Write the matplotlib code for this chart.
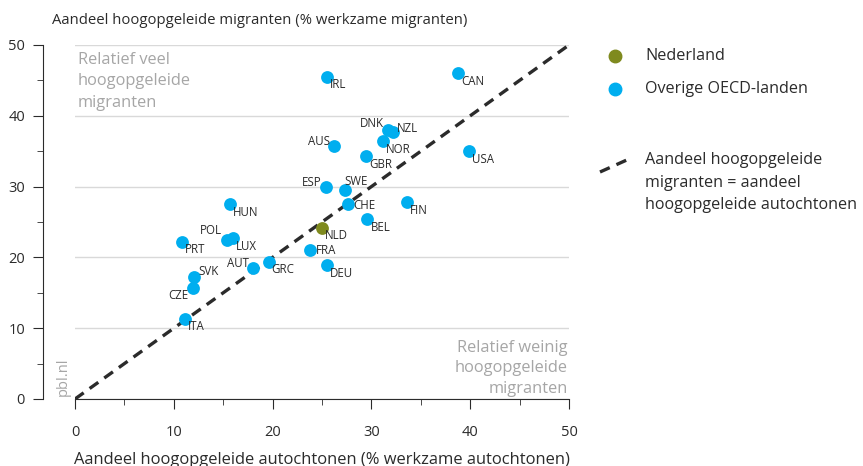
import matplotlib.pyplot as plt
from matplotlib.lines import Line2D
from matplotlib.ticker import MultipleLocator

plt.rcParams['font.family'] = ['Open Sans', 'DejaVu Sans']

BLUE = '#00aeef'
GREEN = '#7f8a1e'
GREY = '#a6a6a6'
DARK = '#2b2b2b'

# country, autochtonen (x), migranten (y)
countries = ['IRL', 'CAN', 'DNK', 'NZL', 'NOR', 'AUS', 'GBR', 'USA', 'ESP', 'SWE',
             'CHE', 'FIN', 'BEL', 'HUN', 'POL', 'LUX', 'PRT', 'FRA', 'AUT', 'GRC',
             'DEU', 'SVK', 'CZE', 'ITA']
x_auto = [25.5, 38.8, 31.7, 32.2, 31.2, 26.2, 29.5, 39.9, 25.4, 27.3,
          27.6, 33.6, 29.6, 15.7, 15.4, 16.0, 10.8, 23.8, 18.0, 19.6,
          25.5, 12.0, 11.9, 11.1]
y_migr = [45.5, 46.0, 38.0, 37.7, 36.4, 35.7, 34.3, 35.0, 29.9, 29.5,
          27.5, 27.8, 25.4, 27.5, 22.5, 22.7, 22.2, 21.0, 18.5, 19.4,
          18.9, 17.2, 15.7, 11.3]
nl_x, nl_y = [25.0], [24.2]

# label placement: offset in pixels (dx, dy) and alignment
label_pos = {
    'DNK': (-4, 6, 'right'), 'NZL': (4, 4, 'left'), 'AUS': (-4, 5, 'right'),
    'ESP': (-4, 5, 'right'), 'SWE': (0, 9, 'left'), 'POL': (-5, 9, 'right'),
    'AUT': (-4, 5, 'right'), 'CZE': (-4, -8, 'right'), 'SVK': (5, 6, 'left'),
    'CHE': (6, -1, 'left'), 'FRA': (6, 0, 'left'),
}

fig = plt.figure(figsize=(8.63, 4.66), dpi=100)
ax = fig.add_axes([75 / 863, 1 - 399 / 466, 494 / 863, 354 / 466])

ax.plot([0, 50], [0, 50], color=DARK, lw=2.4, ls=(0, (3.2, 2.2)), zorder=2)
ax.scatter(x_auto, y_migr, s=85, color=BLUE, zorder=3, linewidths=0)
ax.scatter(nl_x, nl_y, s=85, color=GREEN, zorder=3, linewidths=0)

for c, xv, yv in zip(countries + ['NLD'], x_auto + nl_x, y_migr + nl_y):
    dx, dy, ha = label_pos.get(c, (3, -8, 'left'))
    ax.annotate(c, (xv, yv), xytext=(dx * 0.72, dy * 0.72), textcoords='offset points',
                ha=ha, va='center', fontsize=8.3, color=DARK, zorder=4)

ax.set_xlim(0, 50)
ax.set_ylim(0, 50)
ax.xaxis.set_major_locator(MultipleLocator(10))
ax.xaxis.set_minor_locator(MultipleLocator(5))
ax.yaxis.set_major_locator(MultipleLocator(10))
ax.yaxis.set_minor_locator(MultipleLocator(5))
ax.grid(axis='y', color='#d9d9d9', lw=1)
ax.set_axisbelow(True)
for s in ['top', 'right']:
    ax.spines[s].set_visible(False)
ax.spines['left'].set_position(('outward', 23))
ax.spines['left'].set_color(DARK)
ax.spines['bottom'].set_color(DARK)
ax.tick_params(which='major', length=7, color=DARK, labelsize=10.5, labelcolor=DARK)
ax.tick_params(which='minor', length=4, color=DARK)
ax.tick_params(axis='x', pad=12)
ax.tick_params(axis='y', pad=6)

ax.set_xlabel('Aandeel hoogopgeleide autochtonen (% werkzame autochtonen)',
              fontsize=11.9, color=DARK, labelpad=8)
fig.text(52 / 863, 1 - 20 / 466, 'Aandeel hoogopgeleide migranten (% werkzame migranten)',
         fontsize=10.7, color=DARK, va='center', ha='left')

ax.text(0.3, 49.0, 'Relatief veel\nhoogopgeleide\nmigranten', color=GREY, fontsize=11.8,
        va='top', ha='left', linespacing=1.45)
ax.text(49.9, 0.3, 'Relatief weinig\nhoogopgeleide\nmigranten', color=GREY, fontsize=11.8,
        va='bottom', ha='right', linespacing=1.38)
fig.text(63 / 863, 1 - 396 / 466, 'pbl.nl', rotation=90, color=GREY, fontsize=10.5,
         ha='center', va='bottom')

# legend
fig.add_artist(Line2D([615 / 863], [1 - 56 / 466], marker='o', ms=9, color=GREEN, lw=0))
fig.text(645 / 863, 1 - 56 / 466, 'Nederland', fontsize=11.6, color=DARK, va='center')
fig.add_artist(Line2D([615 / 863], [1 - 89 / 466], marker='o', ms=9, color=BLUE, lw=0))
fig.text(645 / 863, 1 - 89 / 466, 'Overige OECD-landen', fontsize=11.6, color=DARK, va='center')
fig.add_artist(Line2D([600 / 863, 629 / 863], [1 - 172 / 466, 1 - 159 / 466],
                      color=DARK, lw=2.4, ls=(0, (3.2, 2.2))))
fig.text(645 / 863, 1 - 152 / 466, 'Aandeel hoogopgeleide\nmigranten = aandeel\nhoogopgeleide autochtonen',
         fontsize=11.6, color=DARK, va='top', linespacing=1.55)

fig.savefig('out.png', dpi=100)
